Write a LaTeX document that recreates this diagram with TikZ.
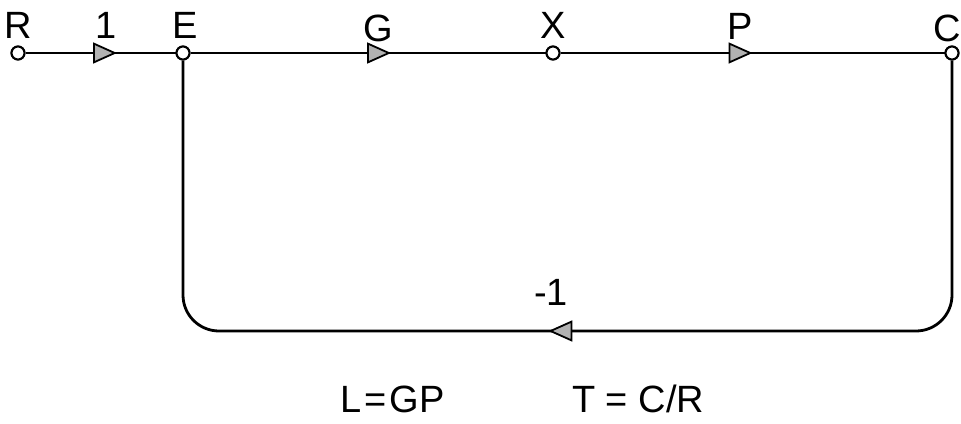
\documentclass[tikz,border=0pt]{standalone}
\usepackage{fontspec}
\setmainfont{Liberation Sans}
\usetikzlibrary{arrows.meta,decorations.markings}
\tikzset{
  sig/.style={circle,draw,line width=2pt,fill=white,minimum size=13pt,inner sep=0pt},
  lbl/.style={font=\fontsize{38}{40}\selectfont,inner sep=0pt},
  eq/.style={font=\fontsize{38}{40}\selectfont,inner sep=0pt,anchor=base west},
  branch/.style={line width=2.8pt},
  tri/.tip={Triangle[length=24pt,width=21pt,fill=gray!60,line width=1.8pt]},
  midarrow/.style={postaction={decorate},decoration={markings,mark=at position #1 with {\arrow{tri}}}}
}
\begin{document}
\begin{tikzpicture}[x=1pt,y=-1pt]
\useasboundingbox (0,0) rectangle (961,423);
% signal nodes
\node[sig] (R) at (18,53) {};
\node[sig] (E) at (183,53) {};
\node[sig] (X) at (553,53) {};
\node[sig] (C) at (952,53) {};
\coordinate (bot) at (553,331);
% node labels
\node[lbl] (lR) at (18,25) {R};
\node[lbl] (lE) at (185,25) {E};
\node[lbl] (lX) at (553,25) {X};
\node[lbl,anchor=east] (lC) at (961,28) {C};
% gains
\node[lbl] (g1) at (106,25) {1};
\node[lbl] (gG) at (378,28) {G};
\node[lbl] (gP) at (740,26) {P};
\node[lbl] (gm) at (551,292) {-1};
% branches
\draw[branch,midarrow=0.61] (R) -- (E);
\draw[branch,midarrow=0.565] (E) -- (X);
\draw[branch,midarrow=0.5] (X) -- (C);
\draw[branch,rounded corners=36pt,midarrow=0.515] (C.south) |- (bot) -| (E.south);
% redraw nodes on top
\node[sig] at (R) {};
\node[sig] at (E) {};
\node[sig] at (X) {};
\node[sig] at (C) {};
% equations
\node[eq] (L) at (340,412) {L\kern3pt=\kern3pt GP};
\node[eq] (T) at (572,412) {T = C/R};
\end{tikzpicture}
\end{document}
